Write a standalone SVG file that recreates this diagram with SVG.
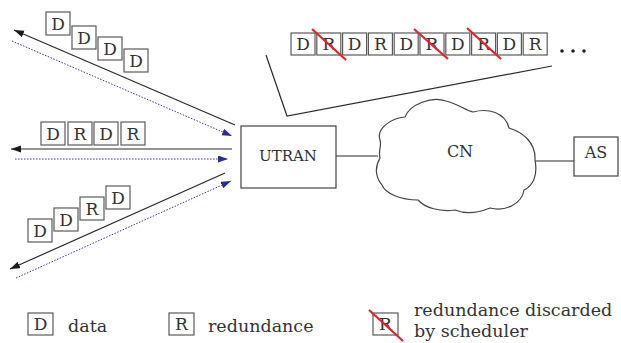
<svg xmlns="http://www.w3.org/2000/svg" width="621" height="343" viewBox="0 0 621 343">
  <style>
    .bx { fill: #fff; stroke: #5a5a5a; stroke-width: 1.2; }
    .lt { font-family: "DejaVu Serif", "Liberation Serif", serif; font-size: 17px; fill: #333; text-anchor: middle; }
    .nd { fill: #fff; stroke: #444; stroke-width: 1.2; }
    .nt { font-family: "DejaVu Serif", "Liberation Serif", serif; fill: #333; text-anchor: middle; }
    .lg { font-family: "DejaVu Serif", "Liberation Serif", serif; font-size: 17.5px; fill: #333; }
    .strike { stroke: #e3232b; stroke-width: 2.2; }
    .down { stroke: #2a2a2a; stroke-width: 1.2; fill: none; marker-end: url(#ahBlack); }
    .up { stroke: #3a3aa8; stroke-width: 1; stroke-dasharray: 1.5 1.5; fill: none; marker-end: url(#ahBlue); }
    .ln { stroke: #2a2a2a; stroke-width: 1.2; fill: none; }
  </style>
  <defs>
    <marker id="ahBlack" markerUnits="userSpaceOnUse" markerWidth="11" markerHeight="8" refX="10" refY="3.5" orient="auto">
      <path d="M0,0 L10,3.5 L0,7 z" fill="#1a1a1a"/>
    </marker>
    <marker id="ahBlue" markerUnits="userSpaceOnUse" markerWidth="11" markerHeight="8" refX="10" refY="3.5" orient="auto">
      <path d="M0,0 L10,3.5 L0,7 z" fill="#2b2b9c"/>
    </marker>
  </defs>

  <rect width="621" height="343" fill="#fff"/>

  <!-- radio links between terminals and UTRAN -->
  <g id="connectors">
    <line class="down" x1="235" y1="125" x2="14" y2="30"/>
    <line class="up" x1="12" y1="41" x2="232" y2="136"/>
    <line class="down" x1="232" y1="149" x2="11" y2="149"/>
    <line class="up" x1="15" y1="159" x2="228" y2="159"/>
    <line class="down" x1="225" y1="173" x2="10" y2="269"/>
    <line class="up" x1="16" y1="278" x2="231" y2="181"/>
    <!-- wired links -->
    <line class="ln" x1="336" y1="156" x2="378" y2="156"/>
    <line class="ln" x1="535" y1="161" x2="574" y2="161"/>
    <!-- zoom-in outline towards the packet stream -->
    <polyline class="ln" points="266,55 287,116 552,66"/>
  </g>

  <!-- packets on the upper link -->
  <g id="packets-upper">
    <rect class="bx" x="46" y="12" width="24" height="23"/><text class="lt" x="58" y="30">D</text>
    <rect class="bx" x="72" y="26" width="24" height="23"/><text class="lt" x="84" y="44">D</text>
    <rect class="bx" x="98" y="37" width="24" height="23"/><text class="lt" x="110" y="55">D</text>
    <rect class="bx" x="124" y="49" width="24" height="23"/><text class="lt" x="136" y="67">D</text>
  </g>

  <!-- packets on the middle link -->
  <g id="packets-middle">
    <rect class="bx" x="41" y="122" width="24" height="23"/><text class="lt" x="53" y="140">D</text>
    <rect class="bx" x="68" y="122" width="24" height="23"/><text class="lt" x="80" y="140">R</text>
    <rect class="bx" x="94" y="122" width="24" height="23"/><text class="lt" x="106" y="140">D</text>
    <rect class="bx" x="121" y="122" width="24" height="23"/><text class="lt" x="133" y="140">R</text>
  </g>

  <!-- packets on the lower link -->
  <g id="packets-lower">
    <rect class="bx" x="28" y="219" width="24" height="23"/><text class="lt" x="40" y="237">D</text>
    <rect class="bx" x="54" y="208" width="24" height="23"/><text class="lt" x="66" y="226">D</text>
    <rect class="bx" x="80" y="197" width="24" height="23"/><text class="lt" x="92" y="215">R</text>
    <rect class="bx" x="106" y="186" width="24" height="23"/><text class="lt" x="118" y="204">D</text>
  </g>

  <!-- scheduled packet stream -->
  <g id="packet-stream">
    <rect class="bx" x="291" y="33" width="24" height="22"/><text class="lt" x="303" y="50">D</text>
    <rect class="bx" x="316.8" y="33" width="24" height="22"/><text class="lt" x="328.8" y="50">R</text>
    <rect class="bx" x="342.6" y="33" width="24" height="22"/><text class="lt" x="354.6" y="50">D</text>
    <rect class="bx" x="368.4" y="33" width="24" height="22"/><text class="lt" x="380.4" y="50">R</text>
    <rect class="bx" x="394.2" y="33" width="24" height="22"/><text class="lt" x="406.2" y="50">D</text>
    <rect class="bx" x="420" y="33" width="24" height="22"/><text class="lt" x="432" y="50">R</text>
    <rect class="bx" x="445.8" y="33" width="24" height="22"/><text class="lt" x="457.8" y="50">D</text>
    <rect class="bx" x="471.6" y="33" width="24" height="22"/><text class="lt" x="483.6" y="50">R</text>
    <rect class="bx" x="497.4" y="33" width="24" height="22"/><text class="lt" x="509.4" y="50">D</text>
    <rect class="bx" x="523.2" y="33" width="24" height="22"/><text class="lt" x="535.2" y="50">R</text>
    <line class="strike" x1="312" y1="29" x2="346" y2="60"/>
    <line class="strike" x1="414" y1="29" x2="448" y2="59"/>
    <line class="strike" x1="467" y1="28" x2="501" y2="59"/>
    <circle cx="562" cy="51" r="1.8" fill="#222"/>
    <circle cx="573" cy="51" r="1.8" fill="#222"/>
    <circle cx="584" cy="51" r="1.8" fill="#222"/>
  </g>

  <g id="utran">
    <rect class="nd" x="241" y="126" width="95" height="62"/>
    <text class="nt" x="288" y="161" font-size="15">UTRAN</text>
  </g>

  <g id="cn">
    <path class="nd" d="M380,140 C376,128 392,118 405,117 C410,104 432,96 446,101 C458,104 465,110 473,112 C488,108 505,112 509,128 C522,132 536,142 535,160 C538,175 533,186 524,190 C522,204 505,212 490,208 C478,213 465,214 455,210 C440,212 425,208 418,200 C400,200 385,193 382,185 C374,175 376,165 380,158 C378,150 382,146 380,140 Z"/>
    <text class="nt" x="460" y="157" font-size="16">CN</text>
  </g>

  <g id="as">
    <rect class="nd" x="574" y="137" width="44" height="39"/>
    <text class="nt" x="596" y="158" font-size="16">AS</text>
  </g>

  <!-- legend -->
  <g id="legend">
    <rect class="bx" x="28" y="313" width="25" height="22"/><text class="lt" x="40.5" y="330">D</text>
    <text class="lg" x="68" y="332">data</text>
    <rect class="bx" x="169" y="313" width="25" height="22"/><text class="lt" x="181.5" y="330">R</text>
    <text class="lg" x="208" y="332">redundance</text>
    <rect class="bx" x="373" y="313" width="25" height="22"/><text class="lt" x="385.5" y="330">R</text>
    <line class="strike" x1="369" y1="310" x2="403" y2="341"/>
    <text class="lg" x="414" y="316">redundance discarded</text>
    <text class="lg" x="414" y="337">by scheduler</text>
  </g>
</svg>
